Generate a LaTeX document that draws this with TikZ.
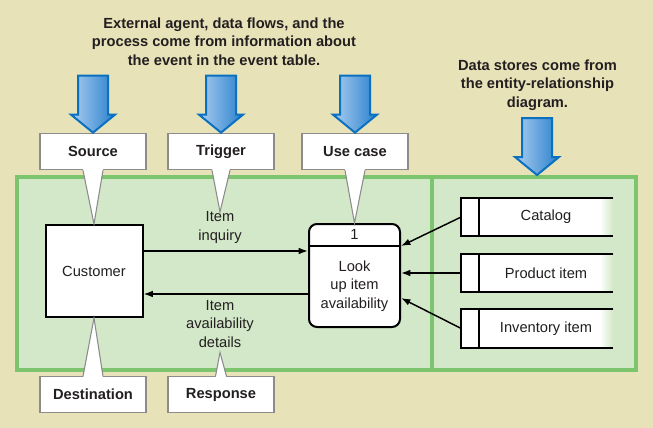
\documentclass[tikz,border=0pt]{standalone}
\usepackage{fontspec}
\setmainfont{Liberation Sans}
\usetikzlibrary{arrows.meta,positioning}
\definecolor{pagebeige}{RGB}{232,226,185}
\definecolor{panelfill}{RGB}{210,232,200}
\definecolor{paneledge}{RGB}{125,196,110}
\definecolor{arrowlight}{RGB}{172,206,240}
\definecolor{arrowdark}{RGB}{40,128,205}
\definecolor{arrowedge}{RGB}{10,112,192}
\definecolor{calloutgray}{RGB}{140,140,140}
\definecolor{inktext}{RGB}{35,31,32}
\pgfdeclarehorizontalshading{storefade}{100bp}{color(0bp)=(white); color(70bp)=(white); color(75bp)=(panelfill); color(100bp)=(panelfill)}

% blue drop arrow ending at #1
\newcommand{\bluedrop}[1]{\draw[bigarrow] ([shift={(-15,-57)}]#1) -- ++(30,0) -- ++(0,39) -- ++(7,0) -- ++(-22,18) -- ++(-22,-18) -- ++(7,0) -- cycle;}
% callout tail: #1 box anchor, #2 tip, #3 half base width, #4 offset into box
\newcommand{\callouttail}[4]{%
  \fill[white] ([shift={(-#3,#4)}]#1) -- (#2) -- ([shift={(#3,#4)}]#1) -- cycle;
  \draw[draw=calloutgray,line width=0.8pt] ([shift={(-#3,0)}]#1) -- (#2) -- ([shift={(#3,0)}]#1);}

\begin{document}
\begin{tikzpicture}[x=0.75pt,y=-0.75pt,every node/.style={font=\fontsize{11}{14}\selectfont,text=inktext}]
  \tikzstyle{panel}=[draw=paneledge,line width=3pt,fill=panelfill,inner sep=0pt,minimum height=144.75pt]
  \tikzstyle{callout}=[draw=calloutgray,fill=white,line width=0.8pt,minimum width=79.5pt,minimum height=27.5pt,
    font=\fontsize{11}{14}\selectfont\bfseries]
  \tikzstyle{entity}=[draw=black,line width=1.5pt,fill=white,minimum width=72.75pt,minimum height=69pt]
  \tikzstyle{store}=[shading=storefade,minimum width=100.5pt,minimum height=28.5pt,inner sep=0pt]
  \tikzstyle{storetab}=[fill=white,minimum width=12.75pt,minimum height=28.5pt,inner sep=0pt]
  \tikzstyle{storeline}=[line width=1.5pt,line join=miter]
  \tikzstyle{flow}=[-{Latex[length=7pt,width=5pt]},line width=1.1pt]
  \tikzstyle{bigarrow}=[draw=arrowedge,line width=1.5pt,left color=arrowlight,right color=arrowdark,line join=miter]

  \path[use as bounding box,fill=pagebeige] (0,0) rectangle (653,428);

  % -- Notes on top --
  \node[align=center,font=\fontsize{11}{14}\selectfont\bfseries] (evtnote) at (224,41.5)
    {External agent, data flows, and the\\ process come from information about\\ the event in the event table.};
  \node[align=center,font=\fontsize{11}{14}\selectfont\bfseries] (ernote) at (537.5,85)
    {Data stores come from\\ the entity-relationship\\ diagram.};

  % -- Panels --
  \node[panel,minimum width=311.25pt] (panL) at (224.5,273.5) {};
  \node[panel,minimum width=153pt] (panR) at (534,273.5) {};

  % -- Callouts --
  \node[callout] (src)  at (93,151.5)  {Source};
  \node[callout] (trig) at (221,151.5) {Trigger};
  \node[callout] (uc)   at (355,151.5) {Use case};
  \node[callout,minimum height=26.5pt] (dest) at (93,394.5)  {Destination};
  \node[callout,minimum height=26.5pt] (resp) at (221,394.5) {Response};

  \bluedrop{src.north}
  \bluedrop{trig.north}
  \bluedrop{uc.north}
  \coordinate (erdrop) at ([xshift=2.25pt]panR.north);
  \bluedrop{erdrop}

  % -- Customer and process --
  \node[entity] (customer) at (94,271) {Customer};
  \node[entity,rounded corners=6pt,minimum width=68.25pt,minimum height=77.25pt] (proc) at (354.5,275.5) {};
  \draw[line width=1.5pt] ([yshift=-17.25pt]proc.north west) -- ([yshift=-17.25pt]proc.north east);
  \node (procno) at ([yshift=-8.6pt]proc.north) {1};
  \node[align=center] (proctext) at ([yshift=-7.9pt]proc.center) {Look\\ up item\\ availability};

  % -- Data stores --
  \node[store] (catalog) at (546,217)   {Catalog};
  \node[store] (prod)    at (546,273)   {Product item};
  \node[store] (inv)     at (546,328.5) {Inventory item};
  \node[storetab,left=0pt of catalog] (cattab)  {};
  \node[storetab,left=0pt of prod]    (prodtab) {};
  \node[storetab,left=0pt of inv]     (invtab)  {};
  \draw[storeline] (catalog.north east) -- (cattab.north west) -- (cattab.south west) -- (catalog.south east);
  \draw[storeline] (cattab.north east) -- (cattab.south east);
  \draw[storeline] (prod.north east) -- (prodtab.north west) -- (prodtab.south west) -- (prod.south east);
  \draw[storeline] (prodtab.north east) -- (prodtab.south east);
  \draw[storeline] (inv.north east) -- (invtab.north west) -- (invtab.south west) -- (inv.south east);
  \draw[storeline] (invtab.north east) -- (invtab.south east);

  % -- Flow labels --
  \node[align=center] (inq) at (220,227.5) {Item\\ inquiry};
  \node[align=center] (det) at (220,324) {Item\\ availability\\ details};

  % -- Callout tails --
  \callouttail{src.south}{customer.north}{10}{-2}
  \callouttail{trig.south}{[yshift=-3.75pt]inq.north}{9}{-2}
  \callouttail{uc.south}{proc.north}{10}{-2}
  \callouttail{dest.north}{customer.south}{10}{2}
  \callouttail{resp.north}{det.south}{5.5}{2}

  % -- Flows --
  \coordinate (inqstart) at ([yshift=15pt]customer.east);
  \coordinate (detend) at ([yshift=-17.25pt]customer.east);
  \draw[flow] (inqstart) -- (inqstart -| proc.west);
  \draw[flow] (detend -| proc.west) -- (detend);
  \draw[flow] (cattab.west) -- ([yshift=-17.25pt]proc.north east);
  \draw[flow] (prodtab.west) -- (prodtab.west -| proc.east);
  \draw[flow] (invtab.west) -- ([yshift=-16.9pt]proc.east);
\end{tikzpicture}
\end{document}
